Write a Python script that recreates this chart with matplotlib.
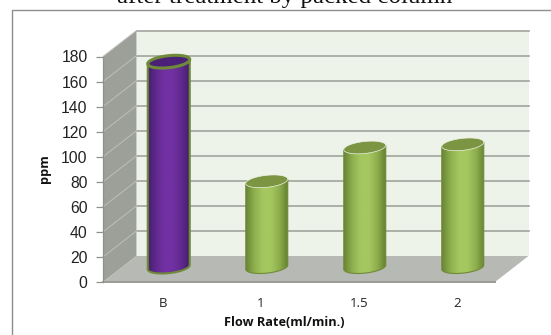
import numpy as np
import matplotlib
matplotlib.use('Agg')
import matplotlib.pyplot as plt
from matplotlib.colors import LinearSegmentedColormap
from matplotlib.lines import Line2D
from matplotlib.patches import Polygon

categories = ['B', '1', '1.5', '2']
ppm = [165.5, 70, 97, 99.5]
y_ticks = [0, 20, 40, 60, 80, 100, 120, 140, 160, 180]

W, H = 551, 335
fig = plt.figure(figsize=(W / 100, H / 100), dpi=100, facecolor='white')
ax = fig.add_axes([103 / W, (H - 282) / H, 392 / W, 225.5 / H])
ax.set_facecolor('none')
for s in ax.spines.values():
    s.set_visible(False)

x0, x1 = -0.5, 3.5
y0, y1 = 0, 180
# depth of the fake 3d box, in data units
dx = 33.5 / 98
dy = 26 / (225.5 / 180)


def poly(pts, **kw):
    p = Polygon(pts, closed=True, clip_on=False, **kw)
    ax.add_patch(p)
    return p


# walls
poly([(x0 + dx, y0 + dy), (x1 + dx, y0 + dy), (x1 + dx, y1 + dy), (x0 + dx, y1 + dy)],
     facecolor='#EEF3EA', edgecolor='none', zorder=1)
poly([(x0, y0), (x0 + dx, y0 + dy), (x0 + dx, y1 + dy), (x0, y1)],
     facecolor='#9D9F99', edgecolor='none', zorder=1)
poly([(x0, y0), (x1, y0), (x1 + dx, y0 + dy), (x0 + dx, y0 + dy)],
     facecolor='#B7B9B4', edgecolor='none', zorder=1)

# grid lines
for t in y_ticks:
    if t > 0:
        ax.plot([x0 + dx, x1 + dx], [t + dy, t + dy], color='#A2A39E', lw=1.2,
                clip_on=False, zorder=2)
        ax.plot([x0, x0 + dx], [t, t + dy], color='#BDBFBA', lw=0.7,
                clip_on=False, zorder=2)
ax.plot([x0, x1], [y0, y0], color='#9A9C98', lw=1.4, clip_on=False, zorder=2)
ax.plot([x0, x0], [y0, y1], color='#8F918C', lw=0.9, clip_on=False, zorder=2)

# cylinders
half_w = 21 / 98
ry = 4.8
tilt = 1.7
ts = np.linspace(0, 2 * np.pi, 121)
green = LinearSegmentedColormap.from_list('g', ['#6A8636', '#8FB04E', '#A5C760', '#A5C760', '#8DAE4C', '#64802F'])
purple = LinearSegmentedColormap.from_list('p', ['#45206B', '#612A90', '#7231A3', '#7231A3', '#5F2A8D', '#43206A'])
grad = np.linspace(0, 1, 128).reshape(1, -1)

for i, (c, v) in enumerate(zip(categories, ppm)):
    base = dy / 2 + 1.5
    top = v + dy / 2
    ex = i + dx / 2 + half_w * np.cos(ts)
    top_y = top + ry * np.sin(ts) + tilt * np.cos(ts)
    lower = ts[(ts >= np.pi) & (ts <= 2 * np.pi)]
    body = list(zip(i + dx / 2 + half_w * np.cos(lower),
                    base + ry * np.sin(lower) + tilt * np.cos(lower)))
    body += [(i + dx / 2 + half_w, top + tilt), (i + dx / 2 - half_w, top - tilt)]
    is_blank = c == 'B'
    clip = poly(body, facecolor='none',
                edgecolor='#6F8A38',
                lw=1.5 if is_blank else 0.8, zorder=4)
    im = ax.imshow(grad, cmap=purple if is_blank else green, aspect='auto', zorder=3,
                   extent=[i + dx / 2 - half_w, i + dx / 2 + half_w, base - ry - tilt, top + tilt],
                   interpolation='bilinear')
    im.set_clip_path(clip)
    if is_blank:
        poly(list(zip(ex, top_y)), facecolor='#4B2178', edgecolor='#6F8A38', lw=2.2, zorder=5)
    else:
        poly(list(zip(ex, top_y)), facecolor='#7C9542', edgecolor='#EDF2E6', lw=0.5, zorder=5)

ax.set_xlim(x0, x1)
ax.set_ylim(y0, y1)
ax.set_yticks(y_ticks)
ax.set_yticklabels([str(t) for t in y_ticks], family='Liberation Sans', fontsize=11.3, color='#222222')
ax.tick_params(axis='y', length=5, width=0.9, color='#8F918C', pad=6)
ax.set_xticks([i + 0.11 for i in range(len(categories))])
ax.set_xticklabels(categories, family='Open Sans', fontsize=9.5, color='#222222')
ax.tick_params(axis='x', length=0, pad=11)

fig.text(284 / W, 1 - 323 / H, 'Flow Rate(ml/min.)', family='Open Sans', fontweight='bold',
         fontsize=9.2, color='#111111', ha='center', va='center')
fig.text(44.5 / W, 1 - 169 / H, 'ppm', family='Open Sans', fontweight='bold', fontsize=9.2,
         color='#111111', rotation=90, ha='center', va='center')
fig.text(284.5 / W, 1 - 3.5 / H, 'after treatment by packed column', family='Liberation Serif',
         fontsize=17.9, color='#111111', ha='center', va='baseline')

# chart frame runs off the right and bottom of the image
fig.add_artist(Line2D([11.5 / W, 11.5 / W, 1], [0, 1 - 9.5 / H, 1 - 9.5 / H], color='#8E8E8E', lw=1.0))

fig.savefig('out.png', dpi=100)
